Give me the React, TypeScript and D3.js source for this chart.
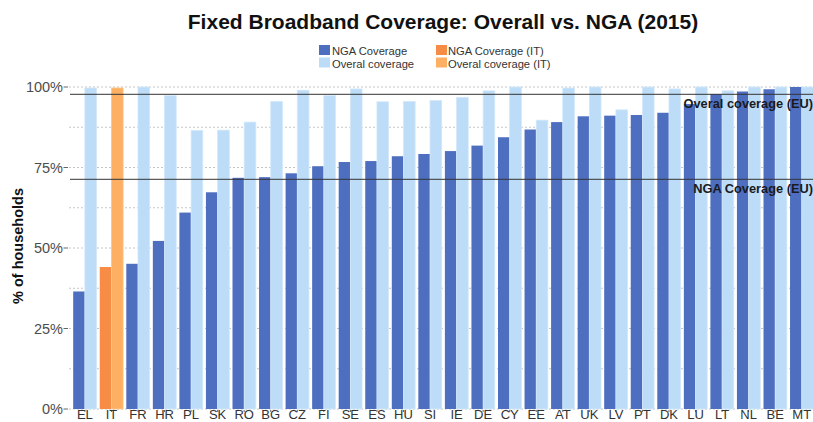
import React from 'react';
import * as d3 from 'd3';

// countries ordered by NGA coverage
const countries = ['EL', 'IT', 'FR', 'HR', 'PL', 'SK', 'RO', 'BG', 'CZ', 'FI', 'SE', 'ES', 'HU', 'SI',
  'IE', 'DE', 'CY', 'EE', 'AT', 'UK', 'LV', 'PT', 'DK', 'LU', 'LT', 'NL', 'BE', 'MT'];
const ngaCoverage = [36.5, 44.1, 45.1, 52.2, 61.0, 67.3, 71.8, 72.0, 73.2, 75.4, 76.7, 77.0, 78.5, 79.2,
  80.1, 81.8, 84.4, 86.8, 89.1, 90.9, 91.1, 91.3, 92.0, 94.7, 97.8, 98.6, 99.3, 100];
const overallCoverage = [99.7, 99.7, 100, 97.3, 86.5, 86.6, 89.1, 95.5, 99.0, 97.3, 99.4, 95.4, 95.5, 95.8,
  96.8, 98.8, 100, 89.7, 99.7, 100, 92.9, 100, 99.4, 100, 98.8, 100, 100, 100];
const euOverall = 97.7;
const euNga = 71.3;
const yTicks = [0, 25, 50, 75, 100];
const yGrid = [0, 12.5, 25, 37.5, 50, 62.5, 75, 87.5, 100];

const highlight = 'IT';
const font = '"Liberation Sans", Arial, sans-serif';

export default function App() {
  const width = 813;
  const height = 422;
  const top = 87, bottom = 409, left = 69;

  const y = d3.scaleLinear().domain([0, 100]).range([bottom, top]);
  const x = d3.scaleBand<string>()
    .domain(countries)
    .range([71.6, 71.6 + 28 * 26.55])
    .paddingInner(0.12)
    .paddingOuter(0.06);
  const inner = d3.scaleBand<string>().domain(['nga', 'overall']).range([0, x.bandwidth()]);

  const colors = (c: string, s: string) => {
    if (c === highlight) return s === 'nga' ? '#f78c47' : '#fdb063';
    return s === 'nga' ? '#4e6fc0' : '#bcdcf7';
  };

  const pct = d3.format('.0f');

  return (
    <svg width={width} height={height} style={{ position: 'absolute', left: 0, top: 0, display: 'block', background: '#fff' }}>
      <text x={443} y={29} textAnchor="middle" fontFamily={font} fontWeight="bold" fontSize={21} fill="#111">
        Fixed Broadband Coverage: Overall vs. NGA (2015)
      </text>

      {/* legend */}
      <g fontFamily={font} fontSize={11.2} fill="#333">
        <rect x={319} y={45} width={11} height={10} fill="#4e6fc0" />
        <text x={332} y={54.5}>NGA Coverage</text>
        <rect x={319} y={57.5} width={11} height={10} fill="#bcdcf7" />
        <text x={332} y={67.5}>Overal coverage</text>
        <rect x={436} y={45} width={11} height={10} fill="#f78c47" />
        <text x={448} y={54.5}>NGA Coverage (IT)</text>
        <rect x={436} y={57.5} width={11} height={10} fill="#fdb063" />
        <text x={448} y={67.5}>Overal coverage (IT)</text>
      </g>

      {/* grid */}
      {yGrid.map(v => (
        <line key={'g' + v} x1={left} x2={width} y1={y(v)} y2={y(v)}
          stroke="#b8b8b8" strokeWidth={0.8} strokeDasharray="2,2" />
      ))}

      {/* y axis */}
      <g fontFamily={font} fontSize={14.5} fill="#4d4d4d">
        {yTicks.map(v => (
          <g key={'t' + v}>
            <line x1={63.5} x2={68} y1={y(v)} y2={y(v)} stroke="#666" />
            <text x={63} y={y(v)} dy="0.36em" textAnchor="end">{pct(v)}%</text>
          </g>
        ))}
      </g>
      <text transform={`translate(23,246) rotate(-90)`} textAnchor="middle" fontFamily={font}
        fontWeight="bold" fontSize={14.5} fill="#111">% of households</text>

      {/* bars */}
      {countries.map((c, i) => (
        <g key={c} transform={`translate(${x(c)},0)`}>
          <rect x={inner('nga')} y={y(ngaCoverage[i])} width={inner.bandwidth()}
            height={bottom - y(ngaCoverage[i])} fill={colors(c, 'nga')} />
          <rect x={inner('overall')} y={y(overallCoverage[i])} width={inner.bandwidth()}
            height={bottom - y(overallCoverage[i])} fill={colors(c, 'overall')}
            stroke={c === highlight ? '#fdc68a' : '#d3e8fa'} strokeWidth={0.8} />
        </g>
      ))}

      {/* EU reference lines */}
      <line x1={70} x2={width} y1={y(euOverall)} y2={y(euOverall)} stroke="#333" strokeOpacity={0.8} strokeWidth={1.4} />
      <line x1={70} x2={width} y1={y(euNga)} y2={y(euNga)} stroke="#333" strokeOpacity={0.8} strokeWidth={1.4} />
      <g fontFamily={font} fontWeight="bold" fontSize={12.8} fill="#1a1a22" textAnchor="end">
        <text x={813} y={y(euOverall) + 14}>Overal coverage (EU)</text>
        <text x={813} y={y(euNga) + 14}>NGA Coverage (EU)</text>
      </g>

      {/* x labels */}
      <g fontFamily={font} fontSize={13} fill="#333" textAnchor="middle">
        {countries.map(c => (
          <g key={'x' + c}>
            <line x1={x(c)! + x.bandwidth() / 2} x2={x(c)! + x.bandwidth() / 2} y1={bottom + 1} y2={bottom + 3} stroke="#666" />
            <text x={x(c)! + x.bandwidth() / 2} y={418.5}>{c}</text>
          </g>
        ))}
      </g>
    </svg>
  );
}
